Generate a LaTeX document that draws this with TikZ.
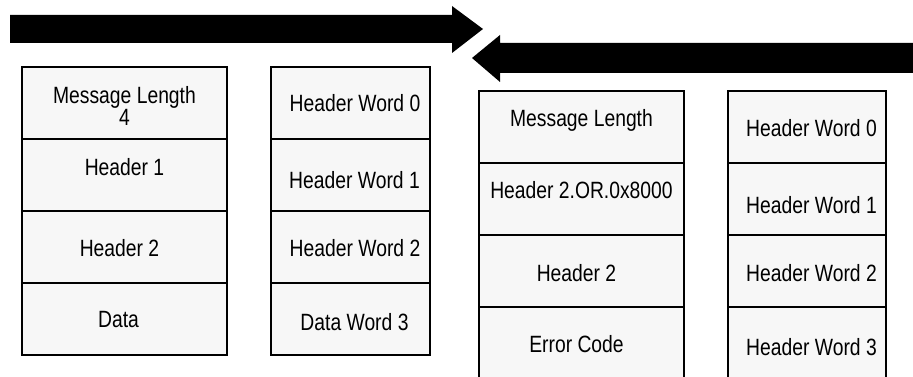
\documentclass[tikz,border=0pt]{standalone}
\usepackage{fontspec}
\setmainfont{Liberation Sans}[FakeStretch=0.82]
\usetikzlibrary{positioning}
\definecolor{cellfill}{HTML}{F7F7F7}

\begin{document}
\begin{tikzpicture}[x=0.02cm, y=-0.02cm,
                    every node/.style={font=\fontsize{13.4}{13}\selectfont},
                    cell/.style={draw, line width=1.2pt, fill=cellfill,
                                 outer sep=0pt, inner sep=0pt, minimum height=1.44cm},
                    wide/.style={cell, minimum width=4.1cm},
                    narrow/.style={cell, minimum width=3.17cm},
                    txt/.style={align=center, inner sep=0pt}]

  \useasboundingbox (0,0) rectangle (913,377);
  \clip (0,0) rectangle (913,377);

  %% request arrow
  \fill (10,15) -- (452,15) -- (452,6) -- (483,29) -- (452,53) -- (452,43) -- (10,43) -- cycle;

  %% reply arrow, with a white rim over the first head
  \draw[white, line width=5pt, line join=miter]
    (940,43) -- (500,43) -- (500,35) -- (472,58) -- (500,82) -- (500,73) -- (940,73) -- cycle;
  \fill (940,43) -- (500,43) -- (500,35) -- (472,58) -- (500,82) -- (500,73) -- (940,73) -- cycle;

  %% request block
  \node[wide] (req0) at (124.5,103) {};
  \node[wide, below=0pt of req0] (req1) {};
  \node[wide, below=0pt of req1] (req2) {};
  \node[wide, below=0pt of req2] (req3) {};

  \node[txt] (req0txt) at ([shift={(0,3)}]req0.center) {Message Length\\4};
  \node[txt] (req1txt) at ([shift={(0,-8)}]req1.center) {Header 1};
  \node[txt] (req2txt) at ([shift={(-5,1)}]req2.center) {Header 2};
  \node[txt] (req3txt) at ([shift={(-6,1)}]req3.center) {Data};

  %% request words
  \node[narrow] (rqw0) at (350.5,103) {};
  \node[narrow, below=0pt of rqw0] (rqw1) {};
  \node[narrow, below=0pt of rqw1] (rqw2) {};
  \node[narrow, below=0pt of rqw2] (rqw3) {};

  \node[txt] (rqw0txt) at ([shift={(4.5,0)}]rqw0.center) {Header Word 0};
  \node[txt] (rqw1txt) at ([shift={(4,5)}]rqw1.center) {Header Word 1};
  \node[txt] (rqw2txt) at ([shift={(4.5,1)}]rqw2.center) {Header Word 2};
  \node[txt] (rqw3txt) at ([shift={(4,3)}]rqw3.center) {Data Word 3};

  %% reply block
  \node[wide] (rep0) at (581.5,127) {};
  \node[wide, below=0pt of rep0] (rep1) {};
  \node[wide, below=0pt of rep1] (rep2) {};
  \node[wide, below=0pt of rep2] (rep3) {};

  \node[txt] (rep0txt) at ([shift={(0,-7)}]rep0.center) {Message Length};
  \node[txt] (rep1txt) at ([shift={(0,-9)}]rep1.center) {Header 2.OR.0x8000};
  \node[txt] (rep2txt) at ([shift={(-5,2)}]rep2.center) {Header 2};
  \node[txt] (rep3txt) at ([shift={(-5,1)}]rep3.center) {Error Code};

  %% reply words
  \node[narrow] (rpw0) at (807,127) {};
  \node[narrow, below=0pt of rpw0] (rpw1) {};
  \node[narrow, below=0pt of rpw1] (rpw2) {};
  \node[narrow, below=0pt of rpw2] (rpw3) {};

  \node[txt] (rpw0txt) at ([shift={(4.5,1)}]rpw0.center) {Header Word 0};
  \node[txt] (rpw1txt) at ([shift={(4.5,6)}]rpw1.center) {Header Word 1};
  \node[txt] (rpw2txt) at ([shift={(4.5,2)}]rpw2.center) {Header Word 2};
  \node[txt] (rpw3txt) at ([shift={(4.5,4)}]rpw3.center) {Header Word 3};

\end{tikzpicture}
\end{document}
